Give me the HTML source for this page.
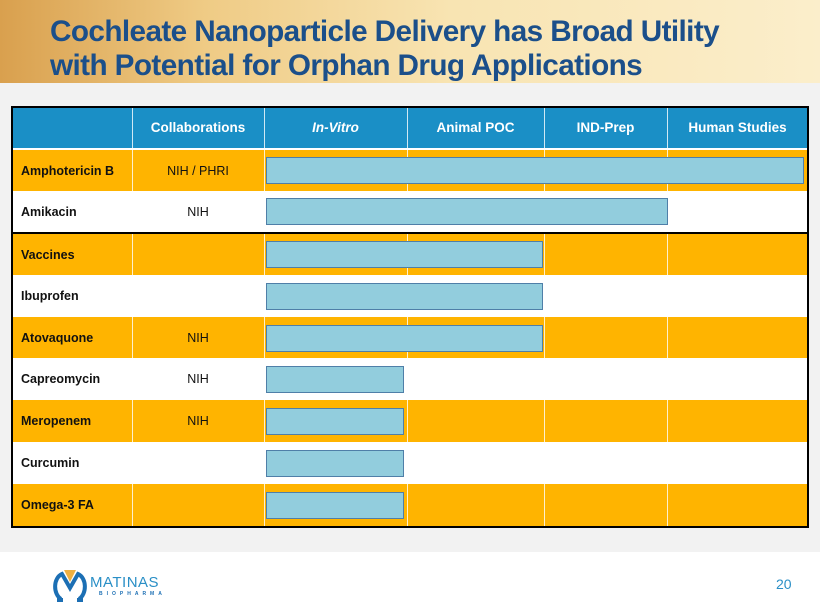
<!DOCTYPE html>
<html><head><style>
body{margin:0;width:820px;height:615px;position:relative;overflow:hidden;background:#fff;font-family:"Liberation Sans",sans-serif}
.hdr{position:absolute;left:0;top:0;width:820px;height:83px;background:linear-gradient(90deg,#d9a04e 0%,#efcb85 25%,#f8e4b2 55%,#fbeecb 100%)}
.hdr div{position:absolute;left:50px;top:15px;color:#1b4f8a;font-weight:bold;font-size:30px;line-height:34px;letter-spacing:-0.6px;transform:scaleX(0.99);transform-origin:left}
.gray{position:absolute;left:0;top:83px;width:820px;height:469px;background:#f2f2f2}
.a{position:absolute;box-sizing:border-box}
.t{position:absolute;font-size:12.5px;font-weight:bold;color:#111;display:flex;align-items:center}
.th{position:absolute;color:#fff;font-weight:bold;font-size:13.5px;display:flex;align-items:center;justify-content:center;height:41px;top:107px}
.bar{position:absolute;background:#92cddd;border:1px solid #4f7fa8;box-sizing:border-box}
</style></head><body>
<div class="hdr"><div>Cochleate Nanoparticle Delivery has Broad Utility<br>with Potential for Orphan Drug Applications</div></div>
<div class="gray"></div>
<div class="a" style="left:11px;top:106px;width:798px;height:422px;background:#000"></div>
<div class="a" style="left:13px;top:108px;width:794px;height:40px;background:#1a8fc6"></div>
<div class="a" style="left:13px;top:148px;width:794px;height:2px;background:#fff"></div>
<div class="a" style="left:13px;top:150px;width:794px;height:41px;background:#ffb400"></div>
<div class="a" style="left:13px;top:191px;width:794px;height:41px;background:#fff"></div>
<div class="a" style="left:13px;top:234px;width:794px;height:41px;background:#ffb400"></div>
<div class="a" style="left:13px;top:275px;width:794px;height:42px;background:#fff"></div>
<div class="a" style="left:13px;top:317px;width:794px;height:41px;background:#ffb400"></div>
<div class="a" style="left:13px;top:358px;width:794px;height:42px;background:#fff"></div>
<div class="a" style="left:13px;top:400px;width:794px;height:42px;background:#ffb400"></div>
<div class="a" style="left:13px;top:442px;width:794px;height:42px;background:#fff"></div>
<div class="a" style="left:13px;top:484px;width:794px;height:42px;background:#ffb400"></div>
<div class="a" style="left:132px;top:108px;width:1px;height:418px;background:rgba(255,255,255,.8)"></div>
<div class="a" style="left:264px;top:108px;width:1px;height:418px;background:rgba(255,255,255,.8)"></div>
<div class="a" style="left:407px;top:108px;width:1px;height:418px;background:rgba(255,255,255,.8)"></div>
<div class="a" style="left:544px;top:108px;width:1px;height:418px;background:rgba(255,255,255,.8)"></div>
<div class="a" style="left:667px;top:108px;width:1px;height:418px;background:rgba(255,255,255,.8)"></div>
<div class="a" style="left:13px;top:232px;width:794px;height:2px;background:#000"></div>
<div class="th" style="left:132px;width:132px">Collaborations</div>
<div class="th" style="left:264px;width:143px;font-style:italic">In-Vitro</div>
<div class="th" style="left:407px;width:137px">Animal POC</div>
<div class="th" style="left:544px;width:123px">IND-Prep</div>
<div class="th" style="left:667px;width:141px">Human Studies</div>
<div class="t" style="left:21px;top:150px;height:41px">Amphotericin B</div>
<div class="t" style="left:21px;top:191px;height:41px">Amikacin</div>
<div class="t" style="left:21px;top:234px;height:41px">Vaccines</div>
<div class="t" style="left:21px;top:275px;height:42px">Ibuprofen</div>
<div class="t" style="left:21px;top:317px;height:41px">Atovaquone</div>
<div class="t" style="left:21px;top:358px;height:42px">Capreomycin</div>
<div class="t" style="left:21px;top:400px;height:42px">Meropenem</div>
<div class="t" style="left:21px;top:442px;height:42px">Curcumin</div>
<div class="t" style="left:21px;top:484px;height:42px">Omega-3 FA</div>
<div class="t" style="left:132px;width:132px;justify-content:center;font-weight:normal;top:150px;height:41px">NIH / PHRI</div>
<div class="t" style="left:132px;width:132px;justify-content:center;font-weight:normal;top:191px;height:41px">NIH</div>
<div class="t" style="left:132px;width:132px;justify-content:center;font-weight:normal;top:317px;height:41px">NIH</div>
<div class="t" style="left:132px;width:132px;justify-content:center;font-weight:normal;top:358px;height:42px">NIH</div>
<div class="t" style="left:132px;width:132px;justify-content:center;font-weight:normal;top:400px;height:42px">NIH</div>
<div class="bar" style="left:266px;top:157px;width:538px;height:27px"></div>
<div class="bar" style="left:266px;top:198px;width:402px;height:27px"></div>
<div class="bar" style="left:266px;top:241px;width:277px;height:27px"></div>
<div class="bar" style="left:266px;top:283px;width:277px;height:27px"></div>
<div class="bar" style="left:266px;top:325px;width:277px;height:27px"></div>
<div class="bar" style="left:266px;top:366px;width:138px;height:27px"></div>
<div class="bar" style="left:266px;top:408px;width:138px;height:27px"></div>
<div class="bar" style="left:266px;top:450px;width:138px;height:27px"></div>
<div class="bar" style="left:266px;top:492px;width:138px;height:27px"></div>
<svg style="position:absolute;left:50px;top:568px" width="40" height="34" viewBox="0 0 40 34">
<path d="M14 2 L20 14 L26 2" fill="#f0b040"/>
<path d="M7 32 L13 32 M27 32 L33 32 M11 31 C3 26 3 10 12 6 L20 20 L28 6 C37 10 37 26 29 31" fill="none" stroke="#1c6fb4" stroke-width="4"/>
</svg>
<div style="position:absolute;left:90px;top:574px;color:#2a8fc6;font-size:15px;letter-spacing:0.5px">MATINAS</div>
<div style="position:absolute;left:99px;top:591px;color:#1c6fb4;font-size:5px;letter-spacing:4px;font-weight:bold">BIOPHARMA</div>
<div style="position:absolute;left:776px;top:576px;color:#2a8fc6;font-size:14px">20</div>
</body></html>
